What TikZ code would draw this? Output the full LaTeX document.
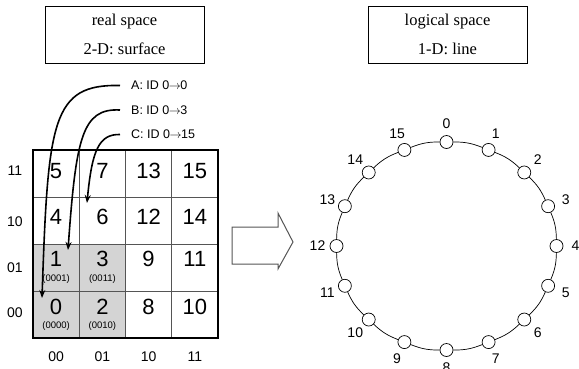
\documentclass[tikz,border=0pt]{standalone}
\usepackage{fontspec}
\setmainfont{Liberation Serif}
\setsansfont{Liberation Sans}
\usetikzlibrary{arrows.meta,positioning}
\definecolor{cellgray}{RGB}{212,212,212}
\definecolor{framegray}{RGB}{85,85,85}
\newcommand{\idto}{\kern-0.5pt$\rightarrow$\kern-0.5pt}

\tikzset{
  spacebox/.style={draw, line width=0.8pt, minimum width=159pt, minimum height=57pt, align=center, font=\fontsize{16.5}{19.8}\selectfont},
  cellnum/.style={font=\sffamily\fontsize{22}{26}\selectfont, inner sep=0pt},
  cellbits/.style={font=\sffamily\fontsize{9.5}{11}\selectfont, inner sep=0pt},
  axislbl/.style={font=\sffamily\fontsize{14}{16}\selectfont, inner sep=0pt},
  idlabel/.style={font=\sffamily\fontsize{12.5}{15}\selectfont, anchor=west, inner xsep=11pt, inner ysep=1pt},
  idarrow/.style={line width=1.6pt, -{Stealth[length=8pt,width=6pt]}},
  ringnode/.style={circle, draw, fill=white, minimum size=13pt, inner sep=0pt, line width=0.7pt},
  ringlbl/.style={font=\sffamily\fontsize{14}{16}\selectfont, inner sep=0pt},
}

\begin{document}
\begin{tikzpicture}[x=1pt,y=-1pt]
\useasboundingbox (0,0) rectangle (579,368);

% headings
\node[spacebox] (real) at (124.5,34.5) {real space\\[9pt]2-D: surface};
\node[spacebox] (logical) at (447.5,34.5) {logical space\\[9pt]1-D: line};

% the 4x4 surface
\fill[cellgray] (33,244.5) rectangle (125.5,338);
\draw[framegray, line width=0.8pt] (79.25,150) -- (79.25,338) (125.5,150) -- (125.5,338) (171.75,150) -- (171.75,338);
\draw[framegray, line width=0.8pt] (33,197) -- (218,197) (33,244.5) -- (218,244.5) (33,291.5) -- (218,291.5);
\draw[line width=1.8pt] (33,150) rectangle (218,338);

\node[cellnum] (n5) at (56.1,171) {5};
\node[cellnum] (n7) at (102.4,171) {7};
\node[cellnum] (n13) at (148.6,171) {13};
\node[cellnum] (n15) at (194.9,171) {15};
\node[cellnum] (n4) at (56.1,217) {4};
\node[cellnum] (n6) at (102.4,217) {6};
\node[cellnum] (n12) at (148.6,217) {12};
\node[cellnum] (n14) at (194.9,217) {14};
\node[cellnum] (n1) at (56.1,259) {1};
\node[cellnum] (n3) at (102.4,259) {3};
\node[cellnum] (n9) at (148.6,259) {9};
\node[cellnum] (n11) at (194.9,259) {11};
\node[cellnum] (n0) at (56.1,307) {0};
\node[cellnum] (n2) at (102.4,307) {2};
\node[cellnum] (n8) at (148.6,307) {8};
\node[cellnum] (n10) at (194.9,307) {10};
\node[cellbits] (b1) at (56.1,279) {(0001)};
\node[cellbits] (b3) at (102.4,279) {(0011)};
\node[cellbits] (b0) at (56.1,326) {(0000)};
\node[cellbits] (b2) at (102.4,326) {(0010)};

% row and column codes
\node[axislbl] (y11) at (15,171) {11};
\node[axislbl] (y10) at (15,222) {10};
\node[axislbl] (y01) at (15,268) {01};
\node[axislbl] (y00) at (15,313) {00};
\node[axislbl] (x00) at (56.1,357) {00};
\node[axislbl] (x01) at (102.4,357) {01};
\node[axislbl] (x10) at (148.6,357) {10};
\node[axislbl] (x11) at (194.9,357) {11};

% id mappings
\node[idlabel] (idA) at (120,85.5) {A: ID 0\idto0};
\node[idlabel] (idB) at (120,110) {B: ID 0\idto3};
\node[idlabel] (idC) at (120,134.5) {C: ID 0\idto15};
\coordinate (tipA) at (42,298);
\coordinate (tipB) at (68,250);
\coordinate (tipC) at (87,203);
\draw[idarrow] (idA.west) .. controls (52,84) and (48,120) .. (tipA);
\draw[idarrow] (idB.west) .. controls (82,108) and (76,138) .. (tipB);
\draw[idarrow] (idC.west) .. controls (99,134) and (92,150) .. (tipC);

% big hollow arrow
\draw[framegray, line width=1pt, fill=white] (232,227) -- (278,227) -- (278,213) -- (293,242) -- (278,269) -- (278,264) -- (232,264) -- cycle;

% the ring of ids
\coordinate (ringc) at (446.5,246);
\foreach \k in {0,...,15}
  \path (ringc) ++({22.5*\k-90}:110 and 104) node[ringnode] (r\k) {}
        (ringc) ++({22.5*\k-90}:129 and 122) node[ringlbl] (t\k) {\k};
\foreach \k in {0,...,15} {
  \pgfmathtruncatemacro\nextk{mod(\k+1,16)}
  \draw[line width=0.7pt] (r\k) to[bend left=11] (r\nextk);
}
\end{tikzpicture}
\end{document}
